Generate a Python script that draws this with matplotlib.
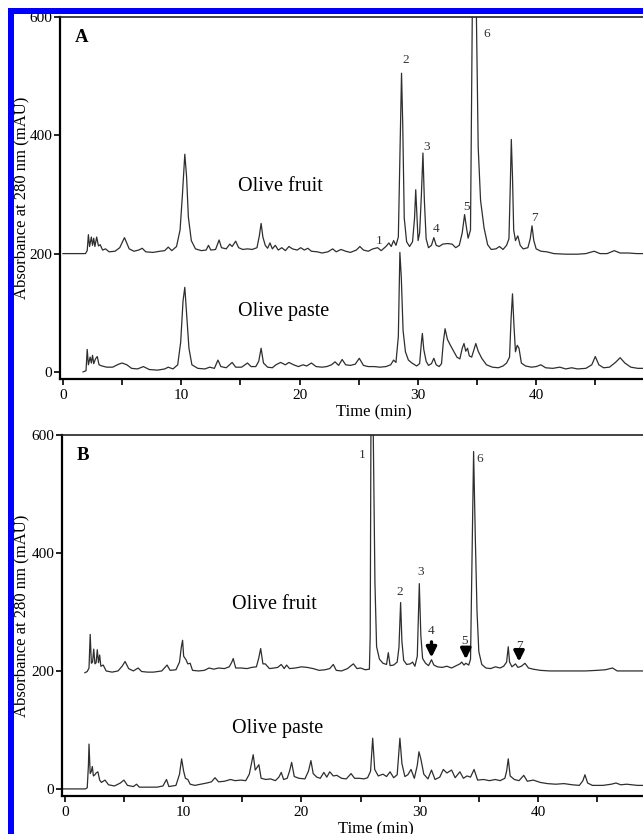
import numpy as np
import matplotlib
matplotlib.use("Agg")
import matplotlib.pyplot as plt
from matplotlib.patches import Rectangle

plt.rcParams['font.family'] = ['Liberation Serif', 'DejaVu Serif']

# chromatogram traces: (time in min, absorbance in mAU)
a_fruit = [
    (0, 200), (1.9, 200), (2.05, 205), (2.15, 232), (2.25, 212), (2.4, 228), (2.5, 214),
    (2.6, 226), (2.7, 212), (2.85, 228), (3.0, 213), (3.15, 215), (3.35, 206), (3.6, 208),
    (3.9, 203), (4.4, 204), (4.8, 210), (5.2, 227), (5.6, 208), (6.0, 204), (6.4, 206),
    (6.7, 209), (7.0, 203), (7.6, 202), (8.2, 204), (8.6, 205), (8.9, 211), (9.2, 205),
    (9.6, 212), (9.9, 240), (10.1, 300), (10.3, 368), (10.45, 330), (10.6, 262), (10.85, 222),
    (11.2, 208), (11.7, 205), (12.1, 206), (12.3, 214), (12.5, 206), (12.9, 207), (13.2, 223),
    (13.4, 210), (13.8, 208), (14.1, 216), (14.3, 212), (14.6, 221), (14.85, 210), (15.2, 207),
    (15.6, 208), (16.0, 207), (16.4, 210), (16.6, 230), (16.75, 251), (16.9, 228), (17.1, 214),
    (17.3, 209), (17.5, 218), (17.7, 208), (17.95, 214), (18.2, 206), (18.5, 210), (18.8, 205),
    (19.1, 212), (19.4, 208), (19.8, 206), (20.1, 210), (20.4, 206), (20.7, 209), (21.0, 204),
    (21.5, 203), (21.9, 201), (22.4, 203), (22.8, 208), (23.1, 203), (23.5, 207), (23.9, 204),
    (24.3, 202), (24.8, 206), (25.1, 212), (25.4, 206), (25.8, 204), (26.2, 208), (26.6, 210),
    (26.9, 205), (27.3, 212), (27.55, 218), (27.75, 212), (27.95, 222), (28.15, 214), (28.35, 228),
    (28.5, 380), (28.62, 505), (28.72, 420), (28.85, 260), (29.05, 220), (29.3, 212), (29.55, 220),
    (29.72, 260), (29.82, 308), (29.92, 265), (30.02, 222), (30.15, 235), (30.3, 300), (30.43, 370),
    (30.55, 290), (30.7, 225), (30.9, 210), (31.15, 214), (31.35, 227), (31.55, 214), (31.8, 212),
    (32.1, 216), (32.5, 217), (32.9, 216), (33.2, 210), (33.5, 214), (33.75, 235), (33.95, 266),
    (34.1, 245), (34.25, 226), (34.45, 240), (34.6, 600), (34.78, 1100), (34.95, 600), (35.1, 380),
    (35.3, 290), (35.6, 243), (35.9, 215), (36.2, 207), (36.6, 208), (36.9, 212), (37.2, 207),
    (37.5, 214), (37.7, 225), (37.82, 320), (37.9, 393), (38.0, 330), (38.1, 240), (38.25, 222),
    (38.45, 230), (38.65, 214), (38.9, 208), (39.3, 210), (39.5, 225), (39.65, 247), (39.8, 222),
    (40.0, 208), (40.4, 204), (40.9, 203), (41.5, 200), (42.5, 199), (43.5, 199), (44.2, 200),
    (44.9, 204), (45.4, 200), (46.0, 200), (46.6, 205), (47.1, 201), (47.8, 201), (48.5, 200),
    (49.5, 200), (52.5, 200),
]

a_paste = [
    (1.7, 0), (1.95, 2), (2.05, 38), (2.15, 12), (2.3, 25), (2.4, 15), (2.5, 28), (2.6, 14),
    (2.75, 22), (2.9, 26), (3.05, 12), (3.3, 10), (3.7, 8), (4.2, 8), (4.7, 13), (5.0, 15),
    (5.4, 12), (5.8, 6), (6.3, 5), (6.8, 9), (7.3, 4), (8.0, 3), (8.6, 5), (8.9, 8), (9.3, 5),
    (9.7, 12), (9.95, 50), (10.15, 120), (10.3, 143), (10.45, 100), (10.65, 40), (10.9, 12),
    (11.4, 6), (12.0, 5), (12.4, 8), (12.8, 6), (13.1, 20), (13.35, 9), (13.8, 7), (14.3, 16),
    (14.6, 8), (15.1, 8), (15.6, 15), (15.9, 9), (16.3, 9), (16.55, 18), (16.75, 40), (16.95, 15),
    (17.3, 8), (17.7, 7), (18.0, 12), (18.4, 16), (18.8, 12), (19.1, 16), (19.5, 12), (19.9, 9),
    (20.3, 12), (20.6, 10), (21.0, 15), (21.4, 9), (21.9, 8), (22.3, 9), (22.7, 12), (23.0, 17),
    (23.3, 11), (23.6, 21), (23.9, 12), (24.3, 11), (24.7, 13), (25.05, 23), (25.4, 11),
    (25.8, 9), (26.3, 9), (26.8, 8), (27.3, 9), (27.7, 12), (27.95, 20), (28.15, 16), (28.35, 60),
    (28.48, 202), (28.6, 160), (28.75, 70), (28.95, 34), (29.2, 20), (29.5, 15), (29.9, 10),
    (30.15, 14), (30.3, 50), (30.38, 65), (30.5, 38), (30.7, 18), (30.9, 11), (31.15, 14),
    (31.35, 23), (31.55, 12), (31.8, 9), (32.0, 14), (32.15, 50), (32.3, 73), (32.5, 55),
    (32.75, 45), (33.0, 36), (33.3, 25), (33.55, 22), (33.75, 40), (33.9, 48), (34.05, 35),
    (34.2, 40), (34.35, 27), (34.55, 25), (34.75, 38), (34.9, 48), (35.1, 35), (35.4, 23),
    (35.8, 12), (36.3, 8), (36.8, 7), (37.2, 10), (37.5, 15), (37.75, 25), (37.88, 90),
    (38.0, 132), (38.12, 80), (38.25, 34), (38.4, 45), (38.55, 40), (38.75, 15), (39.1, 10),
    (39.6, 8), (40.0, 9), (40.4, 12), (40.8, 7), (41.4, 6), (42.0, 8), (42.5, 5), (43.0, 7),
    (43.5, 5), (44.2, 6), (44.7, 12), (45.0, 26), (45.3, 12), (45.7, 7), (46.2, 8), (46.7, 16),
    (47.1, 24), (47.5, 15), (48.0, 8), (48.6, 6), (49.5, 6), (52.5, 6),
]

b_fruit = [
    (1.7, 197), (1.9, 199), (2.05, 205), (2.15, 262), (2.25, 213), (2.35, 215), (2.45, 237),
    (2.55, 212), (2.65, 214), (2.75, 236), (2.85, 214), (2.95, 227), (3.05, 208), (3.25, 210),
    (3.5, 200), (4.0, 198), (4.5, 200), (4.85, 208), (5.1, 216), (5.4, 204), (5.8, 200),
    (6.2, 205), (6.5, 199), (7.0, 198), (7.5, 198), (8.2, 200), (8.65, 210), (8.9, 201),
    (9.4, 202), (9.7, 215), (9.85, 240), (9.96, 252), (10.05, 225), (10.25, 219), (10.4, 212),
    (10.6, 213), (10.8, 201), (11.3, 200), (11.8, 201), (12.2, 205), (12.6, 203), (13.0, 205),
    (13.5, 204), (13.9, 207), (14.1, 214), (14.24, 221), (14.45, 205), (14.9, 205), (15.4, 204),
    (15.8, 206), (16.2, 207), (16.4, 222), (16.56, 238), (16.75, 212), (16.95, 212), (17.3, 204),
    (17.7, 205), (18.0, 206), (18.3, 211), (18.55, 204), (18.75, 210), (19.0, 204), (19.5, 205),
    (20.0, 207), (20.5, 206), (21.0, 204), (21.5, 201), (22.0, 202), (22.4, 204), (22.7, 211),
    (22.95, 201), (23.4, 200), (23.9, 204), (24.2, 209), (24.4, 212), (24.7, 204), (25.0, 205),
    (25.4, 202), (25.75, 203), (25.82, 260), (25.88, 600), (25.97, 950), (26.08, 600),
    (26.22, 349), (26.36, 241), (26.6, 220), (26.9, 213), (27.2, 211), (27.35, 231), (27.5, 209),
    (27.8, 210), (28.1, 215), (28.25, 240), (28.39, 316), (28.5, 250), (28.65, 218), (28.9, 211),
    (29.2, 212), (29.4, 215), (29.6, 208), (29.8, 225), (29.97, 348), (30.1, 260), (30.25, 221),
    (30.5, 213), (30.75, 209), (31.0, 219), (31.2, 210), (31.5, 207), (31.9, 206), (32.3, 208),
    (32.7, 205), (33.1, 209), (33.4, 212), (33.55, 215), (33.75, 210), (33.9, 213), (34.15, 210),
    (34.3, 220), (34.45, 420), (34.56, 572), (34.7, 430), (34.85, 300), (35.0, 233), (35.25, 211),
    (35.6, 205), (36.0, 204), (36.4, 207), (36.8, 205), (37.1, 208), (37.35, 215), (37.49, 241),
    (37.6, 215), (37.8, 207), (38.1, 212), (38.3, 206), (38.6, 208), (38.9, 213), (39.2, 205),
    (39.6, 203), (40.2, 201), (41.0, 200), (42.0, 200), (43.0, 200), (44.0, 200), (45.0, 201),
    (45.7, 202), (46.3, 205), (46.7, 200), (47.5, 200), (48.5, 200), (52.5, 200),
]

b_paste = [
    (-0.25, 0), (1.75, 0), (1.9, 2), (2.0, 40), (2.05, 76), (2.15, 26), (2.25, 30), (2.33, 38),
    (2.42, 22), (2.55, 24), (2.65, 27), (2.8, 29), (2.95, 15), (3.1, 11), (3.4, 15), (3.7, 7),
    (4.2, 5), (4.7, 10), (5.0, 15), (5.3, 6), (5.8, 4), (6.07, 8), (6.3, 3), (7.0, 3), (7.8, 3),
    (8.3, 5), (8.6, 16), (8.8, 4), (9.4, 6), (9.7, 25), (9.88, 51), (10.05, 30), (10.2, 18),
    (10.4, 16), (10.6, 8), (11.0, 6), (11.5, 8), (12.0, 10), (12.4, 12), (12.7, 19), (13.0, 12),
    (13.5, 13), (14.0, 16), (14.4, 14), (14.9, 15), (15.3, 14), (15.6, 25), (15.93, 58),
    (16.1, 32), (16.41, 41), (16.6, 18), (17.0, 16), (17.4, 17), (17.8, 14), (18.1, 20),
    (18.3, 28), (18.5, 16), (18.8, 18), (19.0, 30), (19.18, 45), (19.4, 21), (19.8, 18),
    (20.3, 17), (20.6, 30), (20.81, 48), (21.0, 26), (21.3, 20), (21.6, 18), (21.9, 28),
    (22.15, 20), (22.4, 29), (22.7, 22), (23.0, 23), (23.4, 18), (23.8, 17), (24.2, 26),
    (24.5, 18), (24.9, 18), (25.3, 17), (25.6, 19), (25.85, 30), (26.03, 86), (26.2, 33),
    (26.5, 22), (26.9, 25), (27.2, 21), (27.5, 29), (27.8, 19), (28.1, 24), (28.2, 50),
    (28.33, 86), (28.5, 43), (28.75, 21), (29.0, 24), (29.27, 33), (29.55, 18), (29.8, 40),
    (29.94, 63), (30.1, 51), (30.35, 25), (30.7, 17), (31.0, 32), (31.3, 16), (31.7, 20),
    (32.0, 33), (32.3, 27), (32.7, 32), (33.0, 19), (33.4, 29), (33.7, 18), (34.0, 22),
    (34.3, 20), (34.6, 33), (34.9, 15), (35.4, 16), (35.9, 14), (36.4, 16), (36.8, 14),
    (37.2, 18), (37.35, 30), (37.49, 51), (37.65, 22), (38.0, 16), (38.4, 14), (38.8, 23),
    (39.1, 13), (39.6, 15), (40.2, 11), (40.8, 9), (41.5, 8), (42.2, 9), (42.9, 7), (43.5, 6),
    (43.8, 14), (43.97, 24), (44.2, 10), (44.6, 6), (45.5, 6), (46.2, 8), (46.6, 10), (47.0, 7),
    (47.5, 8), (48.4, 6), (49.5, 6), (52.5, 6),
]

# peak numbers: (label, time, absorbance)
a_peaks = [("1", 26.7, 222), ("2", 28.95, 527), ("3", 30.7, 380), ("4", 31.5, 241),
           ("5", 34.1, 278), ("6", 35.8, 571), ("7", 39.85, 261)]
b_peaks = [("1", 25.1, 566), ("2", 28.33, 334), ("3", 30.1, 367), ("4", 30.96, 268),
           ("5", 33.77, 251), ("6", 35.1, 559), ("7", 38.4, 242)]
# arrows in panel B: (time, tail, tip)
b_arrows = [(31.0, 254, 218), (33.9, 244, 215), (38.4, 235, 211)]

W, H = 643, 834
fig = plt.figure(figsize=(W / 100, H / 100), dpi=100)

xmin, xmax = -0.25, 52.8
ax_w = (xmax - xmin) * 11.83


def make_axes(left_px, top_px, bottom_px):
    ax = fig.add_axes([left_px / W, 1 - bottom_px / H, ax_w / W, (bottom_px - top_px) / H])
    ax.set_xlim(xmin, xmax)
    ax.set_ylim(-12, 600)
    ax.set_xticks([0, 10, 20, 30, 40])
    ax.set_xticks([5, 15, 25, 35, 45, 50], minor=True)
    ax.set_yticks([0, 200, 400, 600])
    ax.tick_params(axis='both', which='both', direction='out', length=4, width=1.2,
                   labelsize=11, pad=1.5, colors='black')
    ax.tick_params(axis='x', pad=3)
    for s in ['left', 'bottom']:
        ax.spines[s].set_linewidth(1.6)
    ax.spines['top'].set_linewidth(1.2)
    ax.spines['top'].set_color('#222222')
    ax.set_xlabel('Time (min)', fontsize=12, va='center')
    ax.xaxis.set_label_coords(0.5, -33.7 / (bottom_px - top_px))
    ax.set_ylabel('Absorbance at 280 nm (mAU)', fontsize=12, va='center')
    ax.yaxis.set_label_coords(-(left_px - 21) / ax_w, 0.5)
    return ax


def draw_panel(ax, letter, fruit, paste, peaks, text_x):
    ft, fy = zip(*fruit)
    pt, py = zip(*paste)
    ax.plot(ft, fy, color='#2e2e2e', lw=0.9)
    ax.plot(pt, py, color='#2e2e2e', lw=0.9)
    ax.text(1.0, 566, letter, fontsize=13.5, fontweight='bold', ha='left', va='center')
    ax.text(text_x, 313, 'Olive fruit', fontsize=14.5, ha='left', va='center')
    ax.text(text_x, 102, 'Olive paste', fontsize=14.5, ha='left', va='center')
    for lab, t, v in peaks:
        ax.text(t, v, lab, fontsize=9.5, color='#333333', ha='center', va='center')


ax_a = make_axes(60, 17, 379)
draw_panel(ax_a, 'A', a_fruit, a_paste, a_peaks, 14.8)

ax_b = make_axes(61.8, 435, 796)
draw_panel(ax_b, 'B', b_fruit, b_paste, b_peaks, 14.1)
for t, tail, tip in b_arrows:
    ax_b.annotate('', xy=(t, tip), xytext=(t, tail),
                  arrowprops=dict(arrowstyle='-|>', lw=2.4, color='black', mutation_scale=15))

# blue frame along the top and left edge
fig.add_artist(Rectangle((8 / W, 1 - 13.5 / H), 1.0, 6 / H, transform=fig.transFigure,
                         facecolor='#0000ff', edgecolor='none', zorder=10))
fig.add_artist(Rectangle((8 / W, 0), 6 / W, 1 - 7.5 / H, transform=fig.transFigure,
                         facecolor='#0000ff', edgecolor='none', zorder=10))

fig.savefig('out.png', dpi=100)
